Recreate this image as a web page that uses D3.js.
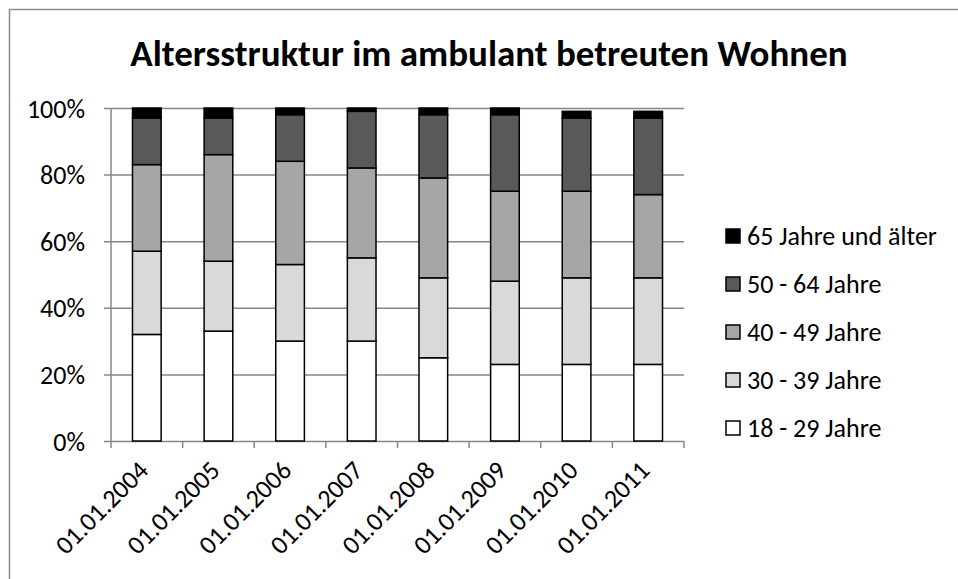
<!DOCTYPE html>
<html>
<head>
<meta charset="utf-8">
<script src="https://cdn.jsdelivr.net/npm/d3@7"></script>
<style>
  body { margin: 0; background: #fff; }
  text { font-family: Carlito, Calibri, Lato, sans-serif; fill: #000; }
</style>
</head>
<body>
<script>
var dates = ['01.01.2004', '01.01.2005', '01.01.2006', '01.01.2007', '01.01.2008', '01.01.2009', '01.01.2010', '01.01.2011'];
var keys = ['18 - 29 Jahre', '30 - 39 Jahre', '40 - 49 Jahre', '50 - 64 Jahre', '65 Jahre und älter'];
var g1829 = [32, 33, 30, 30, 25, 23, 23, 23];
var g3039 = [25, 21, 23, 25, 24, 25, 26, 26];
var g4049 = [26, 32, 31, 27, 30, 27, 26, 25];
var g5064 = [14, 11, 14, 17, 19, 23, 22, 23];
var g65 = [3, 3, 2, 1, 2, 2, 2, 2];
var yTicks = [0, 20, 40, 60, 80, 100];
var colors = ['#ffffff', '#d9d9d9', '#a6a6a6', '#595959', '#000000'];

var series = [g1829, g3039, g4049, g5064, g65];
var rows = dates.map(function(d, i) {
	var r = {date: d};
	keys.forEach(function(k, j) { r[k] = series[j][i]; });
	return r;
});

var W = 958, H = 579;
var svg = d3.select('body').append('svg').attr('width', W).attr('height', H);

svg.append('rect').attr('x', 9.5).attr('y', 9.5).attr('width', 980).attr('height', 600)
	.attr('fill', 'none').attr('stroke', '#8c8c8c').attr('stroke-width', 1.5);

svg.append('text').attr('x', 489).attr('y', 66).attr('text-anchor', 'middle')
	.style('font-size', '37px').style('font-weight', 'bold')
	.text('Altersstruktur im ambulant betreuten Wohnen');

var x = d3.scaleBand().domain(dates).range([111, 684]);
var y = d3.scaleLinear().domain([0, 100]).range([441, 108]);

// gridlines + y axis
var gy = svg.append('g').attr('transform', 'translate(111,0)')
	.call(d3.axisLeft(y).tickValues(yTicks).tickSize(-573).tickSizeOuter(0).tickPadding(26).tickFormat(function(d) { return d + '%'; }));
gy.select('.domain').remove();
gy.selectAll('.tick line').attr('stroke', '#868686').attr('stroke-width', 1.5).attr('x1', -7);
gy.selectAll('.tick text').style('font-size', '26px').style('font-family', null).attr('dy', '0.35em');
svg.append('line').attr('x1', 111).attr('x2', 111).attr('y1', 108).attr('y2', 441)
	.attr('stroke', '#868686').attr('stroke-width', 1.5);

// x axis ticks at band boundaries
var gx = svg.append('g');
gx.selectAll('line').data(d3.range(dates.length + 1)).join('line')
	.attr('x1', function(i) { return 111 + i * x.bandwidth(); })
	.attr('x2', function(i) { return 111 + i * x.bandwidth(); })
	.attr('y1', 441).attr('y2', 448)
	.attr('stroke', '#868686').attr('stroke-width', 1.5);
gx.selectAll('text').data(dates).join('text')
	.attr('text-anchor', 'end')
	.attr('transform', function(d) { return 'translate(' + (x(d) + x.bandwidth() / 2 + 3) + ',472) rotate(-45)'; })
	.style('font-size', '26px')
	.text(function(d) { return d; });

// bars
var stacked = d3.stack().keys(keys)(rows);
var bw = x.bandwidth() * 0.4;
svg.append('g').selectAll('g').data(stacked).join('g')
	.attr('fill', function(d, i) { return colors[i]; })
	.selectAll('rect').data(function(d) { return d; }).join('rect')
	.attr('x', function(d) { return x(d.data.date) + (x.bandwidth() - bw) / 2; })
	.attr('width', bw)
	.attr('y', function(d) { return y(d[1]); })
	.attr('height', function(d) { return y(d[0]) - y(d[1]); })
	.attr('stroke', '#000').attr('stroke-width', 1.5);

// legend, top entry is last series
var legend = svg.append('g').selectAll('g').data(keys.slice().reverse()).join('g')
	.attr('transform', function(d, i) { return 'translate(726,' + (236 + i * 48) + ')'; });
legend.append('rect').attr('x', 0).attr('y', -7).attr('width', 14).attr('height', 14)
	.attr('fill', function(d) { return colors[keys.indexOf(d)]; })
	.attr('stroke', '#000').attr('stroke-width', 1.5);
legend.append('text').attr('x', 21).attr('dy', '0.35em').style('font-size', '26px')
	.text(function(d) { return d; });
</script>
</body>
</html>
